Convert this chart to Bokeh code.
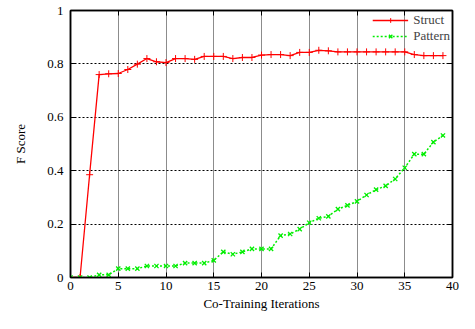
from bokeh.plotting import figure
from bokeh.models import LinearAxis, FixedTicker, Legend, LegendItem, Range1d
from bokeh.embed import file_html
from bokeh.resources import INLINE

iterations = list(range(40))
struct = [0.0, 0.0, 0.385, 0.76, 0.763, 0.764, 0.779, 0.799, 0.82, 0.808,
          0.805, 0.82, 0.82, 0.817, 0.828, 0.828, 0.828, 0.82, 0.824, 0.824,
          0.833, 0.835, 0.835, 0.831, 0.843, 0.843, 0.851, 0.849, 0.845, 0.845,
          0.845, 0.845, 0.845, 0.845, 0.845, 0.845, 0.835, 0.831, 0.831, 0.831]
pattern = [0.0, 0.0, 0.0, 0.01, 0.01, 0.033, 0.033, 0.033, 0.043, 0.043,
           0.043, 0.043, 0.054, 0.054, 0.054, 0.064, 0.096, 0.087, 0.096, 0.107,
           0.107, 0.107, 0.157, 0.163, 0.181, 0.205, 0.222, 0.229, 0.256, 0.27,
           0.285, 0.309, 0.329, 0.343, 0.369, 0.411, 0.462, 0.462, 0.507, 0.532]
x_ticks = [0, 5, 10, 15, 20, 25, 30, 35, 40]
y_ticks = [0, 0.2, 0.4, 0.6, 0.8, 1]
y_tick_labels = {0: "0", 0.2: "0.2", 0.4: "0.4", 0.6: "0.6", 0.8: "0.8", 1: "1"}

FONT = "Liberation Serif"

p = figure(width=459, height=313, output_backend="svg", toolbar_location=None,
           x_range=Range1d(0, 40), y_range=Range1d(0, 1),
           x_axis_label="Co-Training Iterations", y_axis_label="F Score",
           min_border_left=70, min_border_right=7, min_border_top=10, min_border_bottom=36)
p.outline_line_color = "black"
p.outline_line_width = 1.5

p.xaxis.ticker = FixedTicker(ticks=x_ticks)
p.yaxis.ticker = FixedTicker(ticks=y_ticks)
for ax in [p.xaxis[0], p.yaxis[0]]:
    ax.major_tick_in = 5
    ax.major_tick_out = 0
    ax.minor_tick_line_color = None
    ax.axis_line_color = "black"
    ax.axis_line_width = 1.5
    ax.major_label_text_font = FONT
    ax.major_label_text_font_size = "13px"
    ax.major_label_text_color = "black"
    ax.axis_label_text_font = FONT
    ax.axis_label_text_font_size = "13px"
    ax.axis_label_text_font_style = "normal"
    ax.axis_label_text_color = "black"

p.yaxis.major_label_overrides = y_tick_labels
p.xaxis.major_label_standoff = 4
p.xaxis.axis_label_standoff = 3
p.yaxis.major_label_standoff = 7
p.yaxis.axis_label_standoff = 16

# grid at every major tick
p.xgrid.grid_line_color = "#000000"
p.xgrid.grid_line_alpha = 0.45
p.xgrid.grid_line_width = 1
p.ygrid.grid_line_color = "#000000"
p.ygrid.grid_line_alpha = 1.0
p.ygrid.grid_line_width = 1
p.ygrid.grid_line_dash = "2 2"

# mirror ticks on top and right (no labels)
top = LinearAxis(ticker=FixedTicker(ticks=x_ticks), major_tick_in=5, major_tick_out=0,
                 minor_tick_line_color=None, major_label_text_color=None,
                 major_label_standoff=0, axis_line_color="black", axis_line_width=1.5)
right = LinearAxis(ticker=FixedTicker(ticks=y_ticks), major_tick_in=5, major_tick_out=0,
                   minor_tick_line_color=None, major_label_text_color=None,
                   major_label_standoff=0, axis_line_color="black", axis_line_width=1.5)
p.add_layout(top, "above")
p.add_layout(right, "right")

red = "#ff0000"
green = "#00ee00"
l1 = p.line(iterations, struct, line_color=red, line_width=1.3)
m1 = p.scatter(iterations, struct, marker="cross", size=7, line_color=red, line_width=1)
l2 = p.line(iterations, pattern, line_color=green, line_width=1.5, line_dash="2 2")
m2 = p.scatter(iterations, pattern, marker="x", size=6, line_color=green, line_width=1.3)

legend = Legend(items=[LegendItem(label="Struct", renderers=[l1, m1]),
                       LegendItem(label="Pattern", renderers=[l2, m2])],
                location="top_right")
legend.label_text_font = FONT
legend.label_text_font_size = "13px"
legend.border_line_color = None
legend.background_fill_alpha = 0
legend.glyph_width = 36
legend.label_height = 12
legend.glyph_height = 12
legend.spacing = 0
legend.padding = 4
legend.margin = 2
p.add_layout(legend)

open("out.html", "w").write(file_html(p, INLINE))
